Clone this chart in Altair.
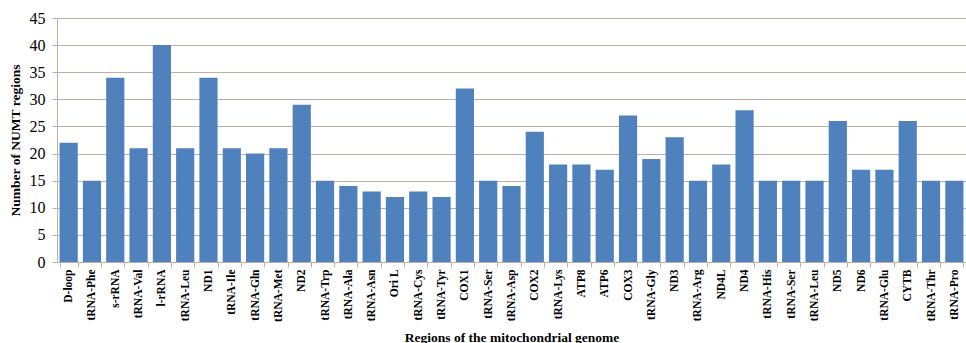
import altair as alt
import pandas as pd

regions = ["D-loop", "tRNA-Phe", "s-rRNA", "tRNA-Val", "l-rRNA", "tRNA-Leu", "ND1",
           "tRNA-Ile", "tRNA-Gln", "tRNA-Met", "ND2", "tRNA-Trp", "tRNA-Ala", "tRNA-Asn",
           "Ori L", "tRNA-Cys", "tRNA-Tyr", "COX1", "tRNA-Ser", "tRNA-Asp", "COX2",
           "tRNA-Lys", "ATP8", "ATP6", "COX3", "tRNA-Gly", "ND3", "tRNA-Arg", "ND4L",
           "ND4", "tRNA-His", "tRNA-Ser", "tRNA-Leu", "ND5", "ND6", "tRNA-Glu", "CYTB",
           "tRNA-Thr", "tRNA-Pro"]
counts = [22, 15, 34, 21, 40, 21, 34, 21, 20, 21, 29, 15, 14, 13, 12, 13, 12, 32, 15, 14,
          24, 18, 18, 17, 27, 19, 23, 15, 18, 28, 15, 15, 15, 26, 17, 17, 26, 15, 15]
y_ticks = [0, 5, 10, 15, 20, 25, 30, 35, 40, 45]

df = pd.DataFrame({"idx": list(range(len(regions))), "region": regions, "count": counts})

label_expr = "[" + ",".join('"%s"' % r for r in regions) + "][datum.value]"

grid_col = "#BFB0A6"

chart = alt.Chart(df).mark_bar(color="#4F81BD").encode(
    x=alt.X("idx:O",
            sort=None,
            scale=alt.Scale(paddingInner=0.22, paddingOuter=0.11),
            axis=alt.Axis(title="Regions of the mitochondrial genome",
                          labelExpr=label_expr,
                          labelAngle=-90,
                          labelAlign="right",
                          labelBaseline="middle",
                          labelFont="Liberation Serif",
                          labelFontWeight="bold",
                          labelFontSize=11.5,
                          labelColor="#000000",
                          labelPadding=2,
                          tickBand="extent",
                          tickColor=grid_col,
                          tickSize=5,
                          domainColor=grid_col,
                          titleFont="Liberation Serif",
                          titleFontWeight="bold",
                          titleFontSize=13.5,
                          titleColor="#000000",
                          titleBaseline="middle",
                          titleY=75)),
    y=alt.Y("count:Q",
            scale=alt.Scale(domain=[0, 45], nice=False),
            axis=alt.Axis(title="Number of NUMT regions",
                          values=y_ticks,
                          grid=True,
                          gridColor=grid_col,
                          gridWidth=1,
                          domainColor=grid_col,
                          tickColor=grid_col,
                          tickSize=5,
                          labelFont="Liberation Serif",
                          labelFontSize=16,
                          labelColor="#000000",
                          labelPadding=7,
                          titleFont="Liberation Serif",
                          titleFontWeight="bold",
                          titleFontSize=13.5,
                          titleColor="#000000",
                          titleAngle=-90,
                          titleAlign="center",
                          titleBaseline="middle",
                          titleX=-42,
                          titleY=122)),
).properties(
    width=909,
    height=244,
    autosize=alt.AutoSizeParams(type="none"),
    padding={"left": 57, "top": 18, "right": 0, "bottom": 81},
).configure_view(stroke=None).configure(background="white")

chart.save("out.html", embed_options={"renderer": "svg", "actions": False})
